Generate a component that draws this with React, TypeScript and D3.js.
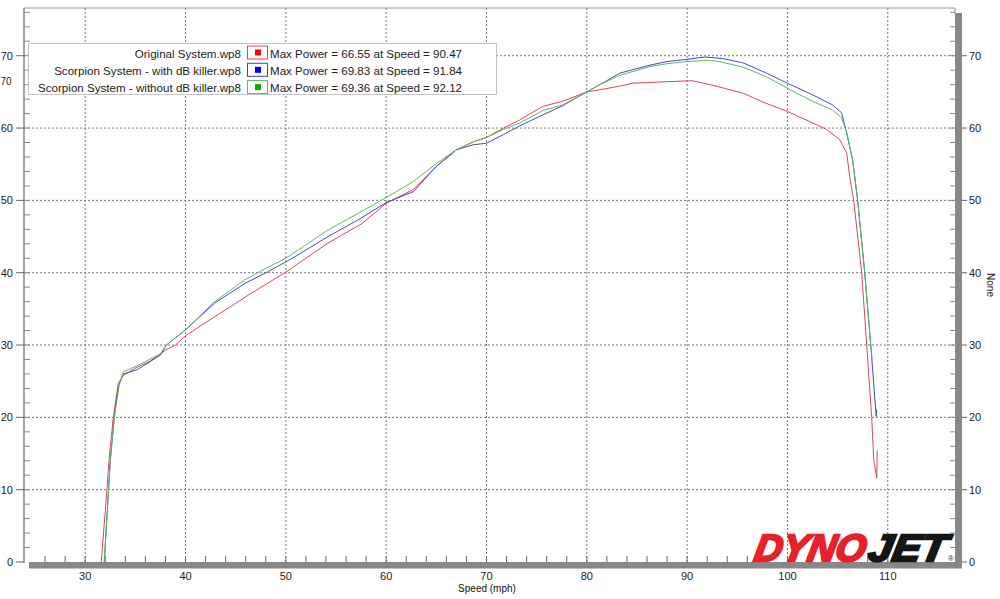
import React from "react";
import * as d3 from "d3";

// speed (mph), power
const originalSystem: [number, number][] = [
  [31.6, 0], [32.0, 7], [32.4, 14.5], [32.8, 20], [33.3, 24.7], [33.8, 25.8],
  [35.0, 26.8], [36.5, 27.8], [38.0, 29.3], [39.0, 30.0], [40.0, 31.3], [42.9, 33.9],
  [46.6, 37.2], [49.9, 40.0], [52.0, 42.0], [54.2, 44.1], [57.6, 46.8], [60.0, 49.6],
  [62.7, 51.5], [65.0, 54.7], [67.0, 57.0], [68.7, 58.1], [70.0, 58.7], [71.7, 60.0],
  [73.3, 61.1], [75.6, 63.0], [77.6, 63.7], [80.0, 65.0], [81.3, 65.3], [83.3, 65.8],
  [84.6, 66.2], [87.9, 66.4], [90.5, 66.55], [91.3, 66.3], [92.9, 65.8], [95.6, 64.8],
  [97.9, 63.4], [100.0, 62.3], [101.9, 61.1], [103.9, 59.8], [105.2, 58.4], [105.9, 56.6],
  [106.2, 53.3], [106.6, 50], [107.4, 40], [107.9, 30], [108.4, 20], [108.6, 14.1],
  [108.9, 11.6], [108.95, 15.4],
];

const withDbKiller: [number, number][] = [
  [31.9, 0], [32.2, 7], [32.5, 14], [32.9, 20], [33.3, 24.3], [33.8, 26.0],
  [35.2, 26.6], [37.5, 28.6], [38.1, 30.0], [40.0, 32.1], [42.9, 35.8], [45.9, 38.5],
  [48.3, 40.2], [50.9, 42.2], [54.2, 45.0], [57.2, 47.3], [60.0, 49.7], [62.7, 51.2],
  [65.0, 54.7], [67.0, 57.0], [68.7, 57.7], [70.0, 57.9], [71.7, 59.1], [73.3, 60.3],
  [75.6, 61.8], [77.6, 63.1], [80.0, 65.0], [81.3, 66.0], [83.3, 67.6], [86.3, 68.7],
  [88.0, 69.2], [90.0, 69.5], [91.8, 69.83], [93.6, 69.6], [95.6, 69.0], [97.9, 67.6],
  [100.0, 66.2], [102.5, 64.6], [104.5, 63.2], [105.4, 62.1], [105.8, 59.9], [106.5, 55.6],
  [107.0, 50], [107.7, 40], [108.3, 30], [108.8, 21], [108.85, 20.1], [108.88, 21.1],
];

const withoutDbKiller: [number, number][] = [
  [31.9, 0], [32.2, 7], [32.5, 14], [32.9, 20], [33.4, 24.5], [33.8, 26.3],
  [35.3, 27.2], [37.5, 28.8], [38.1, 30.0], [40.0, 32.1], [42.9, 36.0], [45.9, 39.0],
  [48.0, 40.6], [50.0, 42.0], [54.2, 45.9], [57.2, 48.2], [60.0, 50.4], [62.7, 52.6],
  [65.0, 55.1], [67.0, 57.0], [68.7, 58.1], [70.0, 58.7], [71.7, 59.8], [73.3, 60.7],
  [75.6, 62.4], [77.6, 63.2], [80.0, 65.0], [81.3, 66.0], [83.3, 67.3], [86.3, 68.5],
  [88.0, 68.9], [90.0, 69.2], [92.1, 69.36], [93.2, 69.2], [95.6, 68.4], [97.9, 67.1],
  [100.0, 65.5], [102.5, 63.7], [104.5, 62.5], [105.4, 61.4], [105.9, 59.5], [106.5, 55.5],
  [107.0, 50], [107.7, 40], [108.3, 30], [108.45, 28],
];

const runNames = [
  "Original System.wp8",
  "Scorpion System - with dB killer.wp8",
  "Scorpion System - without dB killer.wp8",
];
const maxPower = [66.55, 69.83, 69.36];
const maxSpeed = [90.47, 91.84, 92.12];
const lineColors = ["#d9485a", "#4848c0", "#5cbc5c"];
const boxColors = ["#e04848", "#4040d0", "#50c050"];
const swatchColors = ["#ff0000", "#0000ff", "#00b000"];

const xTicks = [30, 40, 50, 60, 70, 80, 90, 100, 110];
const yTicks = [0, 10, 20, 30, 40, 50, 60, 70];

const App = () => {
  const width = 1000;
  const height = 599;
  const x = d3.scaleLinear().domain([23.9, 116.7]).range([24, 955]);
  const y = d3.scaleLinear().domain([0, 76.6]).range([562, 8]);
  const line = d3.line<[number, number]>().x((d) => x(d[0])).y((d) => y(d[1]));
  const series = [originalSystem, withDbKiller, withoutDbKiller];

  const minorX = d3.range(26, 116, 2);
  const minorY = d3.range(2, 77, 2);
  const font = "'Liberation Sans', Arial, sans-serif";

  return (
    <svg width={width} height={height} style={{ position: "absolute", left: 0, top: 0 }} fontFamily={font}>
      <rect width={width} height={height} fill="#fff" />
      {/* grid */}
      {yTicks.filter((t) => t > 0).map((t) => (
        <line key={"gy" + t} x1={24} x2={955} y1={y(t)} y2={y(t)} stroke="#777" strokeDasharray="2,2" />
      ))}
      {xTicks.map((t) => (
        <line key={"gx" + t} x1={x(t)} x2={x(t)} y1={8} y2={562} stroke="#777" strokeDasharray="2,2" />
      ))}
      {/* frame */}
      <line x1={24} x2={955} y1={8} y2={8} stroke="#999" />
      <line x1={955} x2={955} y1={8} y2={14} stroke="#999" />
      <line x1={24} x2={24} y1={8} y2={563} stroke="#888" strokeWidth={1.5} />
      <rect x={955} y={13} width={7} height={555} fill="#888" />
      <rect x={29} y={562} width={933} height={6.5} fill="#888" />
      {/* left axis ticks */}
      {minorY.map((t) => (
        <line key={"ly" + t} x1={24} x2={30} y1={y(t)} y2={y(t)} stroke="#888" />
      ))}
      {yTicks.map((t) => (
        <g key={"lt" + t}>
          <line x1={16} x2={24} y1={y(t)} y2={y(t)} stroke="#666" />
          <text x={13} y={y(t) + 4} fontSize={11} textAnchor="end" fill="#222">{t}</text>
        </g>
      ))}
      <text x={0.5} y={85} fontSize={10} fill="#222">70</text>
      {/* right axis ticks */}
      {minorY.map((t) => (
        <line key={"ry" + t} x1={950} x2={955} y1={y(t)} y2={y(t)} stroke="#888" />
      ))}
      {yTicks.map((t) => (
        <g key={"rt" + t}>
          <line x1={962} x2={967} y1={y(t)} y2={y(t)} stroke="#666" />
          <text x={969} y={y(t) + 4} fontSize={11} fill="#222">{t}</text>
        </g>
      ))}
      <text transform="translate(987,285) rotate(90)" fontSize={10} textAnchor="middle" fill="#222">None</text>
      {/* bottom axis ticks */}
      {minorX.map((t) => (
        <line key={"bx" + t} x1={x(t)} x2={x(t)} y1={556} y2={562} stroke="#666" />
      ))}
      {xTicks.map((t) => (
        <text key={"bt" + t} x={x(t)} y={580} fontSize={11} textAnchor="middle" fill="#222">{t}</text>
      ))}
      <text x={487} y={592} fontSize={10} textAnchor="middle" fill="#111">Speed (mph)</text>
      {/* logo */}
      <g transform="translate(0,561) skewX(-10) translate(0,-561)">
        <text x={753} y={561} fontSize={38} fontWeight={900} fontStyle="italic" fill="#e8202a"
          stroke="#e8202a" strokeWidth={2.5} strokeLinejoin="miter"
          textLength={111} lengthAdjust="spacingAndGlyphs">DYNO</text>
        <text x={867} y={561} fontSize={38} fontWeight={900} fontStyle="italic" fill="#151515"
          stroke="#151515" strokeWidth={2.5} strokeLinejoin="miter"
          textLength={78} lengthAdjust="spacingAndGlyphs">JET</text>
      </g>
      <text x={951} y={561} fontSize={8} textAnchor="middle" fill="#333">®</text>
      {/* curves */}
      {series.map((s, i) => (
        <path key={"s" + i} d={line(s) ?? ""} fill="none" stroke={lineColors[i]} strokeWidth={1} />
      ))}
      {/* legend */}
      <rect x={28.5} y={43.5} width={468} height={51} fill="#fff" stroke="#c4c4c4" />
      {runNames.map((n, i) => {
        const yy = 52.5 + i * 17.3;
        return (
          <g key={"lg" + i}>
            <text x={241} y={yy + 5} fontSize={11.6} textAnchor="end" fill="#222">{n}</text>
            <rect x={247.5} y={yy - 6.5} width={20} height={13} fill="#fff" stroke={boxColors[i]} />
            <rect x={255} y={yy - 3} width={6} height={6} fill={swatchColors[i]} />
            <text x={270} y={yy + 5} fontSize={11.6} fill="#222">
              {`Max Power = ${maxPower[i].toFixed(2)} at Speed = ${maxSpeed[i].toFixed(2)}`}
            </text>
          </g>
        );
      })}
    </svg>
  );
};

export default App;
